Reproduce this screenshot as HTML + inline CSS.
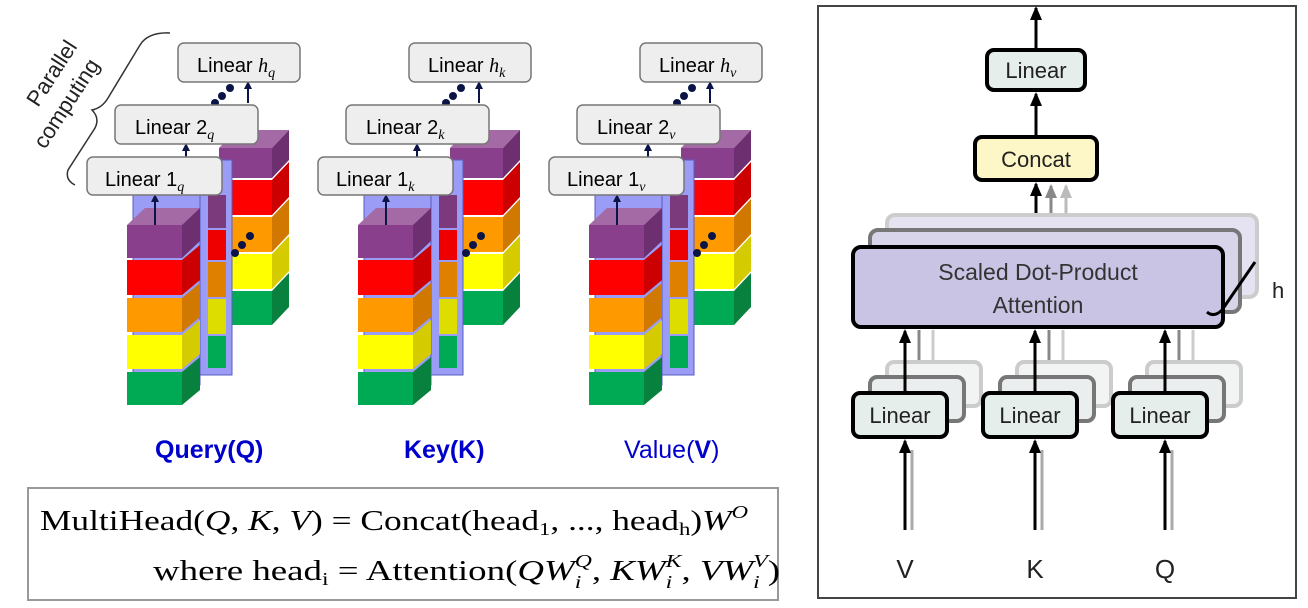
<!DOCTYPE html>
<html><head><meta charset="utf-8"><style>
body{margin:0;background:#fff;width:1308px;height:608px;overflow:hidden}
svg{display:block}
text{font-family:"Liberation Sans",sans-serif}
</style></head><body>
<svg width="1308" height="608" viewBox="0 0 1308 608">
<defs>
<marker id="ah" markerUnits="userSpaceOnUse" markerWidth="14" markerHeight="14" refX="12" refY="7" orient="auto"><path d="M0,1 L14,7 L0,13 z" fill="#000"/></marker>
<marker id="ahg" markerUnits="userSpaceOnUse" markerWidth="14" markerHeight="14" refX="12" refY="7" orient="auto"><path d="M0,1 L14,7 L0,13 z" fill="#888"/></marker>
<marker id="ahl" markerUnits="userSpaceOnUse" markerWidth="14" markerHeight="14" refX="12" refY="7" orient="auto"><path d="M0,1 L14,7 L0,13 z" fill="#bbb"/></marker>
<marker id="ahn" markerUnits="userSpaceOnUse" markerWidth="8" markerHeight="8" refX="6" refY="4" orient="auto"><path d="M0,0 L8,4 L0,8 z" fill="#0a1446"/></marker>
<g id="stack">
 <g>
  <polygon points="219,148 272,148 289,130 236,130" fill="#a46aa6"/>
  <rect x="219" y="148" width="53" height="30" fill="#8a3f8c"/><polygon points="272,148 289,130 289,160 272,178" fill="#6e2f70"/>
  <rect x="219" y="180" width="53" height="35" fill="#f00"/><polygon points="272,180 289,162 289,197 272,215" fill="#c00"/>
  <rect x="219" y="217" width="53" height="35" fill="#f90"/><polygon points="272,217 289,199 289,234 272,252" fill="#d07800"/>
  <rect x="219" y="254" width="53" height="35" fill="#ff0"/><polygon points="272,254 289,236 289,271 272,289" fill="#d4cc00"/>
  <rect x="219" y="291" width="53" height="34" fill="#0a5"/><polygon points="272,291 289,273 289,307 272,325" fill="#08803e"/>
 </g>
 <rect x="188" y="160" width="44" height="215" fill="#9a9cf6" stroke="#5a5cc0" stroke-width="1"/>
 <rect x="208" y="195" width="18" height="33" fill="#7a3a7c"/>
 <rect x="208" y="230" width="18" height="30" fill="#e00"/>
 <rect x="208" y="262" width="18" height="35" fill="#e08000"/>
 <rect x="208" y="299" width="18" height="35" fill="#dd0"/>
 <rect x="208" y="336" width="18" height="32" fill="#0a5"/>
 <rect x="133" y="195" width="67" height="190" fill="#9a9cf6" stroke="#5a5cc0" stroke-width="1"/>
 <polygon points="127,225 182,225 200,208 145,208" fill="#a46aa6"/>
 <rect x="127" y="225" width="55" height="33" fill="#8a3f8c"/><polygon points="182,225 200,208 200,241 182,258" fill="#6e2f70"/>
 <rect x="127" y="260" width="55" height="35" fill="#f00"/><polygon points="182,260 200,245 200,280 182,295" fill="#c00"/>
 <rect x="127" y="298" width="55" height="34" fill="#f90"/><polygon points="182,298 200,283 200,317 182,332" fill="#d07800"/>
 <rect x="127" y="335" width="55" height="34" fill="#ff0"/><polygon points="182,335 200,320 200,354 182,369" fill="#d4cc00"/>
 <rect x="127" y="372" width="55" height="33" fill="#0a5"/><polygon points="182,372 200,357 200,390 182,405" fill="#08803e"/>
 <circle cx="235" cy="253" r="4" fill="#0a1446"/><circle cx="242" cy="245" r="4" fill="#0a1446"/><circle cx="250" cy="236" r="4" fill="#0a1446"/>
 <circle cx="215" cy="103" r="4" fill="#0a1446"/><circle cx="222" cy="96" r="4" fill="#0a1446"/><circle cx="230" cy="88" r="4" fill="#0a1446"/>
 <line x1="155" y1="225" x2="155" y2="196" stroke="#0a1446" stroke-width="2" marker-end="url(#ahn)"/>
 <line x1="186" y1="157" x2="186" y2="145" stroke="#0a1446" stroke-width="2" marker-end="url(#ahn)"/>
 <line x1="248" y1="103" x2="248" y2="83" stroke="#0a1446" stroke-width="2" marker-end="url(#ahn)"/>
</g>
</defs>

<path d="M75,185 Q65,180 68,170 L95,128 Q100,118 92,110 Q102,108 108,98 L140,45 Q148,32 170,33" fill="none" stroke="#333" stroke-width="1.5"/>
<text transform="translate(38,108) rotate(-57)" font-size="22" fill="#222">Parallel</text>
<text transform="translate(45,150) rotate(-57)" font-size="22" fill="#222">computing</text>

<use href="#stack"/>
<use href="#stack" x="231"/>
<use href="#stack" x="462"/>

<g font-size="20" fill="#000">
<rect x="178" y="43" width="122" height="39" rx="6" fill="#eee" stroke="#777" stroke-width="1.5"/>
<text x="197" y="72">Linear <tspan font-family="Liberation Serif" font-style="italic">h</tspan><tspan font-family="Liberation Serif" font-style="italic" font-size="14" dy="5">q</tspan></text>
<rect x="115" y="105" width="143" height="39" rx="6" fill="#eee" stroke="#777" stroke-width="1.5"/>
<text x="135" y="134">Linear 2<tspan font-family="Liberation Serif" font-style="italic" font-size="14" dy="5">q</tspan></text>
<rect x="87" y="157" width="135" height="38" rx="6" fill="#eee" stroke="#777" stroke-width="1.5"/>
<text x="105" y="186">Linear 1<tspan font-family="Liberation Serif" font-style="italic" font-size="14" dy="5">q</tspan></text>

<rect x="409" y="43" width="122" height="39" rx="6" fill="#eee" stroke="#777" stroke-width="1.5"/>
<text x="428" y="72">Linear <tspan font-family="Liberation Serif" font-style="italic">h</tspan><tspan font-family="Liberation Serif" font-style="italic" font-size="14" dy="5">k</tspan></text>
<rect x="346" y="105" width="143" height="39" rx="6" fill="#eee" stroke="#777" stroke-width="1.5"/>
<text x="366" y="134">Linear 2<tspan font-family="Liberation Serif" font-style="italic" font-size="14" dy="5">k</tspan></text>
<rect x="318" y="157" width="135" height="38" rx="6" fill="#eee" stroke="#777" stroke-width="1.5"/>
<text x="336" y="186">Linear 1<tspan font-family="Liberation Serif" font-style="italic" font-size="14" dy="5">k</tspan></text>

<rect x="640" y="43" width="122" height="39" rx="6" fill="#eee" stroke="#777" stroke-width="1.5"/>
<text x="659" y="72">Linear <tspan font-family="Liberation Serif" font-style="italic">h</tspan><tspan font-family="Liberation Serif" font-style="italic" font-size="14" dy="5">v</tspan></text>
<rect x="577" y="105" width="143" height="39" rx="6" fill="#eee" stroke="#777" stroke-width="1.5"/>
<text x="597" y="134">Linear 2<tspan font-family="Liberation Serif" font-style="italic" font-size="14" dy="5">v</tspan></text>
<rect x="549" y="157" width="135" height="38" rx="6" fill="#eee" stroke="#777" stroke-width="1.5"/>
<text x="567" y="186">Linear 1<tspan font-family="Liberation Serif" font-style="italic" font-size="14" dy="5">v</tspan></text>
</g>

<text x="155" y="458" font-size="25" font-weight="bold" fill="#0000cc">Query(Q)</text>
<text x="404" y="458" font-size="25" font-weight="bold" fill="#0000cc">Key(K)</text>
<text x="624" y="458" font-size="25" fill="#0000cc">Value(<tspan font-weight="bold">V</tspan>)</text>

<rect x="28" y="488" width="750" height="112" fill="#fff" stroke="#999" stroke-width="2"/>
<g font-size="28" fill="#000">
<text x="40" y="530" textLength="708" lengthAdjust="spacingAndGlyphs" style="font-family:'Liberation Serif',serif">MultiHead(<tspan font-style="italic">Q</tspan>, <tspan font-style="italic">K</tspan>, <tspan font-style="italic">V</tspan>) = Concat(head<tspan font-size="18" dy="5">1</tspan><tspan dy="-5">, ..., head</tspan><tspan font-size="18" dy="5">h</tspan><tspan dy="-5">)</tspan><tspan font-style="italic">W</tspan><tspan font-style="italic" font-size="18" dy="-12">O</tspan></text>
<text x="153" y="580" textLength="627" lengthAdjust="spacingAndGlyphs" style="font-family:'Liberation Serif',serif">where head<tspan font-size="18" dy="5">i</tspan><tspan dy="-5"> = Attention(</tspan><tspan font-style="italic">QW</tspan><tspan font-style="italic" font-size="18" dy="8">i</tspan><tspan font-style="italic" font-size="18" dx="-5" dy="-21">Q</tspan><tspan dy="13">, </tspan><tspan font-style="italic">KW</tspan><tspan font-style="italic" font-size="18" dy="8">i</tspan><tspan font-style="italic" font-size="18" dx="-5" dy="-21">K</tspan><tspan dy="13">, </tspan><tspan font-style="italic">VW</tspan><tspan font-style="italic" font-size="18" dy="8">i</tspan><tspan font-style="italic" font-size="18" dx="-5" dy="-21">V</tspan><tspan dy="13">)</tspan></text>
</g>

<rect x="818" y="6" width="478" height="592" fill="#fff" stroke="#444" stroke-width="2"/>
<line x1="1036" y1="50" x2="1036" y2="8" stroke="#000" stroke-width="3" marker-end="url(#ah)"/>
<rect x="987" y="50" width="98" height="40" rx="7" fill="#e6eeec" stroke="#000" stroke-width="4"/>
<text x="1036" y="78" font-size="22" text-anchor="middle" fill="#222">Linear</text>
<line x1="1036" y1="137" x2="1036" y2="94" stroke="#000" stroke-width="3" marker-end="url(#ah)"/>
<rect x="975" y="137" width="122" height="43" rx="7" fill="#fdf6c6" stroke="#000" stroke-width="4"/>
<text x="1036" y="167" font-size="22" text-anchor="middle" fill="#222">Concat</text>
<line x1="1066" y1="218" x2="1066" y2="186" stroke="#bbb" stroke-width="3" marker-end="url(#ahl)"/>
<line x1="1051" y1="230" x2="1051" y2="186" stroke="#888" stroke-width="3" marker-end="url(#ahg)"/>
<line x1="1036" y1="245" x2="1036" y2="184" stroke="#000" stroke-width="3" marker-end="url(#ah)"/>
<rect x="887" y="215" width="370" height="82" rx="8" fill="#e5e2f1" stroke="#ccc" stroke-width="4"/>
<rect x="870" y="230" width="370" height="82" rx="8" fill="#d8d4ea" stroke="#777" stroke-width="4"/>
<rect x="853" y="247" width="370" height="80" rx="8" fill="#c9c3e4" stroke="#000" stroke-width="4"/>
<text x="1038" y="280" font-size="23" text-anchor="middle" fill="#333">Scaled Dot-Product</text>
<text x="1038" y="313" font-size="23" text-anchor="middle" fill="#333">Attention</text>
<path d="M1207,312 Q1214,318 1222,310 L1255,262" fill="none" stroke="#000" stroke-width="3"/>
<text x="1272" y="298" font-size="22" fill="#222">h</text>
<g>
 <g id="lin">
  <line x1="933" y1="362" x2="933" y2="330" stroke="#ccc" stroke-width="3"/>
  <line x1="919" y1="377" x2="919" y2="330" stroke="#888" stroke-width="3"/>
  <rect x="887" y="362" width="94" height="44" rx="7" fill="#f2f4f4" stroke="#ccc" stroke-width="4"/>
  <rect x="870" y="377" width="94" height="44" rx="7" fill="#eaeeee" stroke="#777" stroke-width="4"/>
  <line x1="905" y1="393" x2="905" y2="331" stroke="#000" stroke-width="3" marker-end="url(#ah)"/>
  <rect x="853" y="393" width="94" height="44" rx="7" fill="#e6eeec" stroke="#000" stroke-width="4"/>
  <text x="900" y="423" font-size="22" text-anchor="middle" fill="#222">Linear</text>
  <line x1="912" y1="530" x2="912" y2="450" stroke="#aaa" stroke-width="3"/>
  <line x1="905" y1="530" x2="905" y2="441" stroke="#000" stroke-width="3" marker-end="url(#ah)"/>
 </g>
 <use href="#lin" x="130"/>
 <use href="#lin" x="260"/>
</g>
<text x="905" y="578" font-size="26" text-anchor="middle" fill="#222">V</text>
<text x="1035" y="578" font-size="26" text-anchor="middle" fill="#222">K</text>
<text x="1165" y="578" font-size="26" text-anchor="middle" fill="#222">Q</text>
</svg>
</body></html>
